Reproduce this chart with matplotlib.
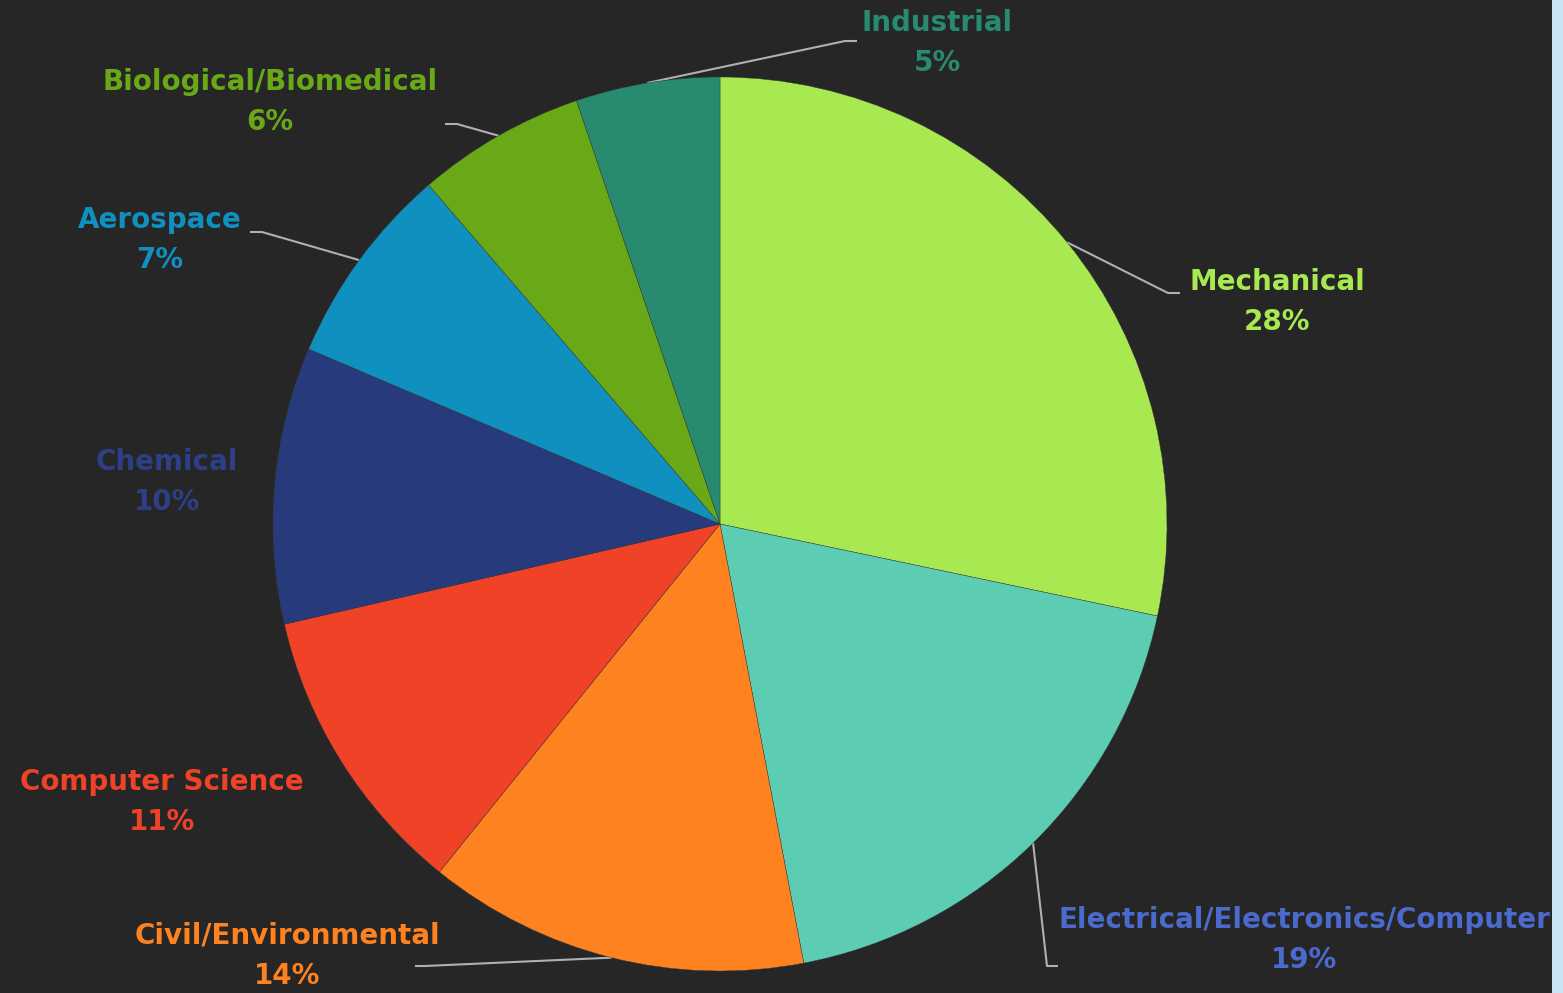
import numpy as np
import matplotlib
matplotlib.use('Agg')
import matplotlib.pyplot as plt
from matplotlib.patches import Rectangle

# data (share of students by major, %)
majors = ['Mechanical', 'Electrical/Electronics/Computer', 'Civil/Environmental',
          'Computer Science', 'Chemical', 'Aerospace', 'Biological/Biomedical', 'Industrial']
shares = [28.3, 18.7, 13.8, 10.6, 10.0, 7.3, 6.1, 5.2]
pct_labels = ['28%', '19%', '14%', '11%', '10%', '7%', '6%', '5%']

slice_colors = ['#a8e952', '#5ccdb2', '#fe8320', '#ef4226', '#263a7c', '#1090bf', '#69a817', '#288a6f']
text_colors = ['#a8e952', '#4a6acd', '#fe8320', '#ef4226', '#2d3f86', '#1090bf', '#69a817', '#288a6f']

W, H = 1563, 993
BG = '#262626'

# label layout in pixel coords (y from top): block centre, elbow, end of leader
label_pos = [(1277, 302), (1304, 940), (287, 956), (162, 802),
             (167, 482), (160, 240), (270, 102), (937, 43)]
leaders = [((1168, 293), (1180, 293)), ((1047, 966), (1058, 966)), ((425, 966), (415, 966)), None,
           None, ((262, 232), (250, 232)), ((457, 124), (445, 124)), ((845, 41), (857, 41))]

fig = plt.figure(figsize=(15.63, 9.93), dpi=100, facecolor=BG)
ax = fig.add_axes([0, 0, 1, 1])
ax.set_facecolor(BG)

cx, cy, r = 720, H - 524, 447
wedges, _ = ax.pie(shares, colors=slice_colors, startangle=90, counterclock=False,
                   center=(cx, cy), radius=r,
                   wedgeprops=dict(edgecolor='#3a3a3a', linewidth=0.3))
ax.set_xlim(0, W)
ax.set_ylim(0, H)
ax.set_aspect('equal')
ax.axis('off')

for i, w in enumerate(wedges):
    tx, ty = label_pos[i]
    ax.text(tx, H - ty, majors[i] + '\n' + pct_labels[i], ha='center', va='center',
            color=text_colors[i], fontsize=20, fontweight='bold', linespacing=1.55,
            family='DejaVu Sans')
    if leaders[i] is None:
        continue
    mid = np.deg2rad((w.theta1 + w.theta2) / 2)
    sx, sy = cx + r * np.cos(mid), cy + r * np.sin(mid)
    (ex, ey), (fx, fy) = leaders[i]
    ax.plot([sx, ex, fx], [sy, H - ey, H - fy], color='#b0b0b0', lw=1.5, zorder=0.5,
            solid_capstyle='butt')

# light blue strip at the right edge
fig.patches.append(Rectangle((1552 / W, 0), (W - 1552) / W, 1, transform=fig.transFigure,
                             facecolor='#c9e3f5', edgecolor='none'))

fig.savefig('out.png', dpi=100, facecolor=BG)
